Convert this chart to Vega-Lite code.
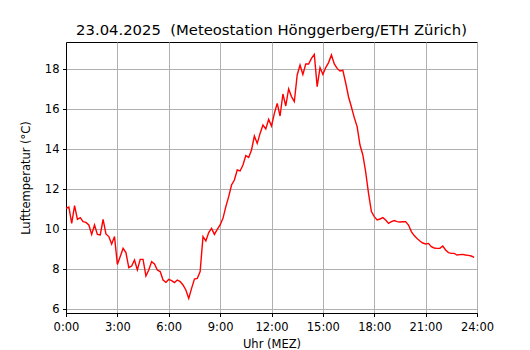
{
  "$schema": "https://vega.github.io/schema/vega-lite/v6.json",
  "autosize": {"type": "none"},
  "width": 411,
  "height": 271,
  "padding": {"left": 66, "top": 42, "right": 53, "bottom": 37},
  "background": "white",
  "title": {"text": "23.04.2025\u00a0 (Meteostation Hönggerberg/ETH Zürich)", "font": "DejaVu Sans", "fontSize": 14.8, "fontWeight": "normal", "color": "black", "offset": 4},
  "config": {
    "view": {"stroke": "black", "strokeWidth": 1},
    "axis": {"labelFont": "DejaVu Sans", "titleFont": "DejaVu Sans", "labelFontSize": 11.5, "titleFontSize": 11.5, "titleFontWeight": "normal", "labelColor": "black", "titleColor": "black", "domainColor": "black", "tickColor": "black", "tickSize": 3.5, "gridColor": "#b0b0b0", "gridWidth": 1, "gridOpacity": 1}
  },
  "data": {"values": [
    {"i":0,"t":11.03},{"i":1,"t":11.1},{"i":2,"t":10.28},{"i":3,"t":11.17},{"i":4,"t":10.48},{"i":5,"t":10.57},
    {"i":6,"t":10.37},{"i":7,"t":10.33},{"i":8,"t":10.2},{"i":9,"t":9.73},{"i":10,"t":10.2},{"i":11,"t":9.73},
    {"i":12,"t":9.7},{"i":13,"t":10.48},{"i":14,"t":9.75},{"i":15,"t":9.62},{"i":16,"t":9.25},{"i":17,"t":9.62},
    {"i":18,"t":8.23},{"i":19,"t":8.62},{"i":20,"t":9.03},{"i":21,"t":8.82},{"i":22,"t":8.07},{"i":23,"t":8.15},
    {"i":24,"t":8.45},{"i":25,"t":7.95},{"i":26,"t":8.48},{"i":27,"t":8.48},{"i":28,"t":7.65},{"i":29,"t":7.95},
    {"i":30,"t":8.37},{"i":31,"t":8.25},{"i":32,"t":7.95},{"i":33,"t":7.87},{"i":34,"t":7.45},{"i":35,"t":7.33},
    {"i":36,"t":7.48},{"i":37,"t":7.42},{"i":38,"t":7.32},{"i":39,"t":7.45},{"i":40,"t":7.37},{"i":41,"t":7.2},
    {"i":42,"t":6.95},{"i":43,"t":6.53},{"i":44,"t":7.03},{"i":45,"t":7.5},{"i":46,"t":7.53},{"i":47,"t":7.87},
    {"i":48,"t":9.62},{"i":49,"t":9.4},{"i":50,"t":9.82},{"i":51,"t":10.03},{"i":52,"t":9.73},{"i":53,"t":9.98},
    {"i":54,"t":10.2},{"i":55,"t":10.53},{"i":56,"t":11.12},{"i":57,"t":11.62},{"i":58,"t":12.2},{"i":59,"t":12.45},
    {"i":60,"t":12.95},{"i":61,"t":12.9},{"i":62,"t":13.2},{"i":63,"t":13.67},{"i":64,"t":13.58},{"i":65,"t":13.95},
    {"i":66,"t":14.65},{"i":67,"t":14.28},{"i":68,"t":14.78},{"i":69,"t":15.2},{"i":70,"t":15.0},{"i":71,"t":15.48},
    {"i":72,"t":15.15},{"i":73,"t":15.78},{"i":74,"t":16.28},{"i":75,"t":15.65},{"i":76,"t":16.75},{"i":77,"t":16.15},
    {"i":78,"t":17.0},{"i":79,"t":16.62},{"i":80,"t":16.37},{"i":81,"t":17.7},{"i":82,"t":18.2},{"i":83,"t":17.73},
    {"i":84,"t":18.25},{"i":85,"t":18.25},{"i":86,"t":18.53},{"i":87,"t":18.73},{"i":88,"t":17.12},{"i":89,"t":18.07},
    {"i":90,"t":17.73},{"i":91,"t":18.07},{"i":92,"t":18.32},{"i":93,"t":18.7},{"i":94,"t":18.25},{"i":95,"t":18.03},
    {"i":96,"t":17.9},{"i":97,"t":17.93},{"i":98,"t":17.3},{"i":99,"t":16.6},{"i":100,"t":16.1},{"i":101,"t":15.57},
    {"i":102,"t":15.12},{"i":103,"t":14.2},{"i":104,"t":13.7},{"i":105,"t":12.85},{"i":106,"t":11.78},{"i":107,"t":10.87},
    {"i":108,"t":10.62},{"i":109,"t":10.45},{"i":110,"t":10.5},{"i":111,"t":10.57},{"i":112,"t":10.45},{"i":113,"t":10.28},
    {"i":114,"t":10.37},{"i":115,"t":10.42},{"i":116,"t":10.37},{"i":117,"t":10.35},{"i":118,"t":10.36},{"i":119,"t":10.37},
    {"i":120,"t":10.2},{"i":121,"t":9.87},{"i":122,"t":9.67},{"i":123,"t":9.53},{"i":124,"t":9.4},{"i":125,"t":9.3},
    {"i":126,"t":9.25},{"i":127,"t":9.28},{"i":128,"t":9.12},{"i":129,"t":9.05},{"i":130,"t":9.03},{"i":131,"t":9.03},
    {"i":132,"t":9.15},{"i":133,"t":8.95},{"i":134,"t":8.82},{"i":135,"t":8.78},{"i":136,"t":8.78},{"i":137,"t":8.7},
    {"i":138,"t":8.72},{"i":139,"t":8.73},{"i":140,"t":8.7},{"i":141,"t":8.68},{"i":142,"t":8.65},{"i":143,"t":8.58}
  ]},
  "mark": {"type": "line", "color": "#ff0000", "strokeWidth": 1.4, "clip": true},
  "encoding": {
    "x": {"field": "i", "type": "quantitative", "title": "Uhr (MEZ)",
      "scale": {"domain": [0, 144], "nice": false, "zero": false},
      "axis": {"values": [0, 18, 36, 54, 72, 90, 108, 126, 144], "labelExpr": "(datum.value / 6) + ':00'", "labelPadding": 4.5, "titlePadding": 6, "labelFlush": false}},
    "y": {"field": "t", "type": "quantitative", "title": "Lufttemperatur (°C)",
      "scale": {"domain": [5.8, 19.35], "nice": false, "zero": false},
      "axis": {"values": [6, 8, 10, 12, 14, 16, 18], "labelPadding": 3.5, "titlePadding": 13, "labelFlush": false}}
  }
}
